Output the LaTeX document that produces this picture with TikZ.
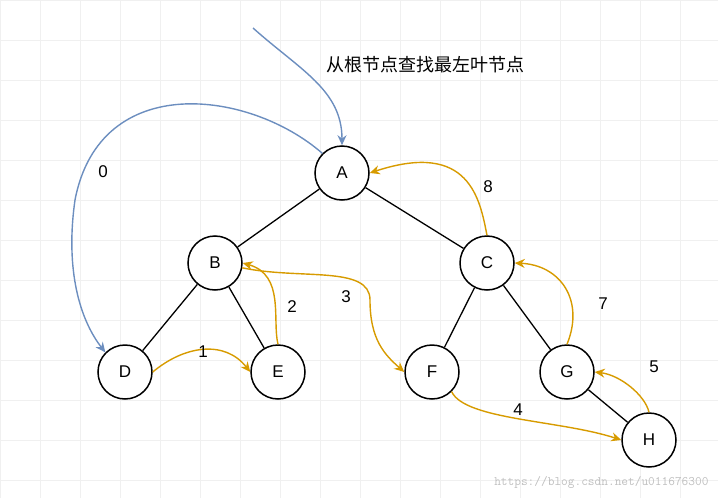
\documentclass[tikz,border=0pt]{standalone}
\usepackage{fontspec}
\setmainfont{Liberation Sans}
\newfontfamily\cjk{Noto Sans CJK SC}
\usepackage{tikz}
\usetikzlibrary{arrows.meta}
\definecolor{bluel}{HTML}{6C8EBF}
\definecolor{orangel}{HTML}{D79B00}
\begin{document}
\begin{tikzpicture}[
  x=1pt, y=-1pt,
  font=\fontsize{17}{20}\selectfont,
  vertex/.style={draw, circle, line width=1.5pt, minimum size=54pt, inner sep=0pt, fill=white},
  edge/.style={line width=1.3pt},
  walk/.style={-{Stealth[length=10pt,width=9pt]}, line width=1.4pt, draw=orangel},
  seek/.style={-{Stealth[length=10pt,width=9pt]}, line width=1.4pt, draw=bluel},
  lbl/.style={font=\fontsize{17}{20}\selectfont}
]
\useasboundingbox (0,0) rectangle (718,498);
% grid background
\foreach \gx in {0,40,...,718} \draw[gray!12] (\gx,0) -- (\gx,498);
\foreach \gy in {0,40,...,498} \draw[gray!12] (0,\gy) -- (718,\gy);

% Tree
\node[vertex] (A) at (342,173) {A};
\node[vertex] (B) at (215,263) {B};
\node[vertex] (C) at (487,263) {C};
\node[vertex] (D) at (125,372) {D};
\node[vertex] (E) at (278,372) {E};
\node[vertex] (F) at (432,372) {F};
\node[vertex] (G) at (567,372) {G};
\node[vertex] (H) at (649,440) {H};

\draw[edge] (A) -- (B);
\draw[edge] (A) -- (C);
\draw[edge] (B) -- (D);
\draw[edge] (B) -- (E);
\draw[edge] (C) -- (F);
\draw[edge] (C) -- (G);
\draw[edge] (G) -- (H);

% Search from root
\node[font=\cjk\fontsize{18}{21}\selectfont] (title) at (425,65) {从根节点查找最左叶节点};
\coordinate (start) at (253,28);
\draw[seek] (start) .. controls (300,70) and (342,90) .. (A.north);
\draw[seek] (A.north west) .. controls (250,90) and (100,70) .. (75,200) .. controls (65,270) and (80,320) .. (D.north west);
\node[lbl] (l0) at (103,172) {0};

% Traversal
\draw[walk] (D.east) .. controls (185,345) and (225,340) .. (E.west);
\node[lbl] (l1) at (203,352) {1};
\draw[walk] (E.north) .. controls (272,320) and (285,275) .. (B.east);
\node[lbl] (l2) at (292,307) {2};
\draw[walk] (B.-10) .. controls (300,280) and (370,265) .. (370,300) .. controls (370,340) and (385,355) .. (F.west);
\node[lbl] (l3) at (346,297) {3};
\draw[walk] (F.south east) .. controls (465,420) and (560,420) .. (H.west);
\node[lbl] (l4) at (518,410) {4};
\draw[walk] (H.north) .. controls (645,395) and (620,375) .. (G.east);
\node[lbl] (l5) at (654,367) {5};
\draw[walk] (G.north) .. controls (585,300) and (560,265) .. (C.east);
\node[lbl] (l7) at (603,304) {7};
\draw[walk] (C.north) .. controls (480,200) and (470,140) .. (A.east);
\node[lbl] (l8) at (488,187) {8};

\node[text=gray!50, font=\ttfamily\fontsize{13}{15}\selectfont, anchor=south east] (mark) at (712,492) {https://blog.csdn.net/u011676300};
\end{tikzpicture}
\end{document}
